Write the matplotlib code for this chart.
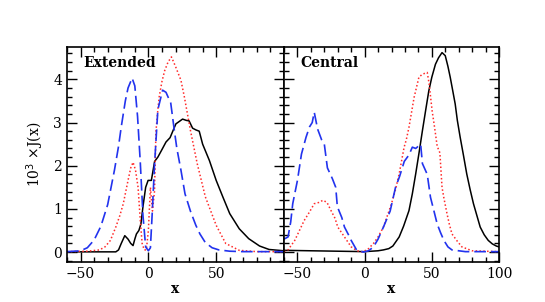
import matplotlib.pyplot as plt
from matplotlib.ticker import MultipleLocator

# Extended panel
ext_blue_x = [-60, -50, -45, -40, -35, -30, -25, -22, -20, -17, -15, -12, -10, -8, -6, -4, -2, 0, 1.5,
              3, 4.5, 7, 10.5, 13, 16.5, 19, 21, 24, 27, 31, 35, 38, 42, 47, 52, 60, 70, 100]
ext_blue_y = [0.01, 0.03, 0.1, 0.28, 0.6, 1.1, 1.9, 2.45, 2.9, 3.5, 3.8, 4.03, 3.85, 3.15, 2.1, 0.85, 0.12, 0.03, 0.1,
              1.0, 2.0, 3.3, 3.75, 3.7, 3.45, 2.85, 2.4, 1.9, 1.35, 0.95, 0.62, 0.42, 0.22, 0.1, 0.05, 0.02, 0.01, 0.01]

ext_red_x = [-60, -45, -36, -32, -28, -24, -21, -18.5, -15, -13, -11.3, -9.5, -7.6, -6, -4.6, -3, -1.5, 0, 1.5, 3,
             4.5, 5.6, 7, 8, 10, 12, 14.5, 17, 20, 24, 26.5, 31, 36, 42, 50, 57, 67, 80, 100]
ext_red_y = [0.01, 0.02, 0.05, 0.12, 0.27, 0.58, 0.85, 1.12, 1.66, 1.95, 2.08, 1.9, 1.5, 0.75, 0.2, 0.05, 0.05, 0.5, 1.5, 0.95,
             1.4, 2.8, 3.3, 3.6, 3.95, 4.2, 4.4, 4.52, 4.3, 3.98, 3.6, 2.82, 2.05, 1.28, 0.62, 0.2, 0.04, 0.01, 0.01]

ext_blk_x = [-60, -24, -22, -20, -17.4, -15, -13, -11.3, -10, -8.8, -7, -5.5, -4, -2, -0.2, 2.2, 4.6, 7, 9.6, 13,
             16, 18, 20.3, 23, 25.2, 28, 30, 32.6, 35, 37.5, 40, 45, 50, 55, 60, 67, 74, 82, 89, 100]
ext_blk_y = [0.005, 0.005, 0.05, 0.2, 0.38, 0.3, 0.2, 0.15, 0.3, 0.42, 0.5, 0.65, 1.05, 1.5, 1.66, 1.66, 2.1, 2.2, 2.35, 2.55,
             2.65, 2.8, 2.97, 3.03, 3.08, 3.05, 3.04, 2.87, 2.83, 2.8, 2.5, 2.12, 1.66, 1.27, 0.89, 0.54, 0.31, 0.14, 0.06, 0.03]

# Central panel
cen_blue_x = [-60, -57, -55, -53.5, -50, -47, -43.6, -41, -39, -37.5, -35, -32, -30, -27.7, -24, -21.5, -20.3, -17,
              -15, -12, -10, -6, -1, 3, 6.6, 10, 14, 19, 23, 26, 29.5, 33, 35.5, 38, 41.7, 43, 46.6, 49, 52, 54,
              56.5, 59, 62, 65, 75, 100]
cen_blue_y = [0.3, 0.35, 0.7, 1.12, 1.66, 2.27, 2.66, 2.9, 3.0, 3.24, 2.85, 2.6, 2.5, 1.95, 1.7, 1.5, 1.05, 0.8,
              0.58, 0.4, 0.27, 0.05, 0.0, 0.03, 0.12, 0.3, 0.58, 0.95, 1.5, 1.75, 2.1, 2.25, 2.43, 2.4, 2.5, 2.05, 1.8, 1.27, 0.9, 0.65,
              0.45, 0.27, 0.12, 0.05, 0.01, 0.01]

cen_red_x = [-60, -57, -52, -45, -41, -37.5, -34, -31, -28, -25, -22, -20, -15, -10, -6, -3, 2, 6.6, 10, 14, 17, 20,
             23, 25.7, 29.4, 31, 33, 36.8, 40.4, 43, 46.6, 48, 50.2, 52, 54, 56, 57.6, 59, 61.3, 63, 65, 69, 72.4,
             80, 100]
cen_red_y = [0.01, 0.05, 0.27, 0.73, 0.93, 1.12, 1.15, 1.2, 1.15, 0.96, 0.78, 0.58, 0.35, 0.12, 0.04, 0.0, 0.05, 0.2, 0.35, 0.58, 0.85, 1.12,
             1.45, 1.81, 2.43, 2.6, 2.89, 3.58, 4.05, 4.12, 4.16, 3.9, 3.28, 2.9, 2.45, 2.3, 1.5, 1.25, 0.89, 0.65, 0.42, 0.25, 0.12,
             0.03, 0.01]

cen_blk_x = [-60, -40, -20, 0, 10, 14, 18, 21, 25.7, 29, 33, 35.5, 38, 40.5, 43, 45.5, 47.8, 50, 52.7, 55, 57.6,
             60, 62, 63.7, 65.5, 67.4, 69, 71.1, 73.5, 76, 78.5, 81, 83.5, 86, 89, 92, 95, 98, 100]
cen_blk_y = [0.04, 0.03, 0.02, 0.01, 0.03, 0.05, 0.08, 0.14, 0.35, 0.6, 0.96, 1.35, 1.81, 2.3, 2.81, 3.3, 3.74, 4.05, 4.35, 4.5, 4.62,
             4.55, 4.3, 4.05, 3.75, 3.43, 3.05, 2.66, 2.25, 1.81, 1.45, 1.12, 0.85, 0.58, 0.4, 0.27, 0.19, 0.14, 0.12]

panels = [
    ('Extended', ext_blk_x, ext_blk_y, ext_red_x, ext_red_y, ext_blue_x, ext_blue_y),
    ('Central', cen_blk_x, cen_blk_y, cen_red_x, cen_red_y, cen_blue_x, cen_blue_y),
]

plt.rcParams['font.family'] = 'DejaVu Serif'

fig = plt.figure(figsize=(5.45, 3.02), dpi=100)
ax1 = fig.add_axes([67 / 545, 40 / 302, 217 / 545, 215 / 302])
ax2 = fig.add_axes([284 / 545, 40 / 302, 215 / 545, 215 / 302], sharey=ax1)

for ax, (name, kx, ky, rx, ry, bx, by) in zip([ax1, ax2], panels):
    ax.plot(kx, ky, color='black', lw=1.1)
    ax.plot(rx, ry, color='#ff2a2a', lw=1.1, linestyle=(0, (1, 1.5)))
    ax.plot(bx, by, color='#2233ee', lw=1.2, linestyle=(0, (7, 3)))
    ax.set_xlim(-60, 100)
    ax.set_ylim(-0.23, 4.75)
    ax.xaxis.set_major_locator(MultipleLocator(50))
    ax.xaxis.set_minor_locator(MultipleLocator(10))
    ax.yaxis.set_major_locator(MultipleLocator(1))
    ax.yaxis.set_minor_locator(MultipleLocator(0.2))
    ax.tick_params(which='both', direction='in', top=True, right=True, labelsize=10)
    ax.tick_params(which='major', length=7, width=1)
    ax.tick_params(which='minor', length=3.5, width=1)
    for s in ax.spines.values():
        s.set_linewidth(1.2)
    ax.text(0.075, 0.96, name, transform=ax.transAxes, fontsize=10, fontweight='bold', va='top', ha='left')
    ax.set_xlabel('x', fontsize=10, fontweight='bold', labelpad=1)

# left panel drops the "100" label so it does not collide with the right panel's "-50"
ax1.set_xticks([-50, 0, 50])
ax1.set_xlim(-60, 100)
ax2.tick_params(labelleft=False)
ax1.set_ylabel('10$^3$ \u00d7J(x)', fontsize=10, labelpad=5)

fig.savefig('out.png', dpi=100)
